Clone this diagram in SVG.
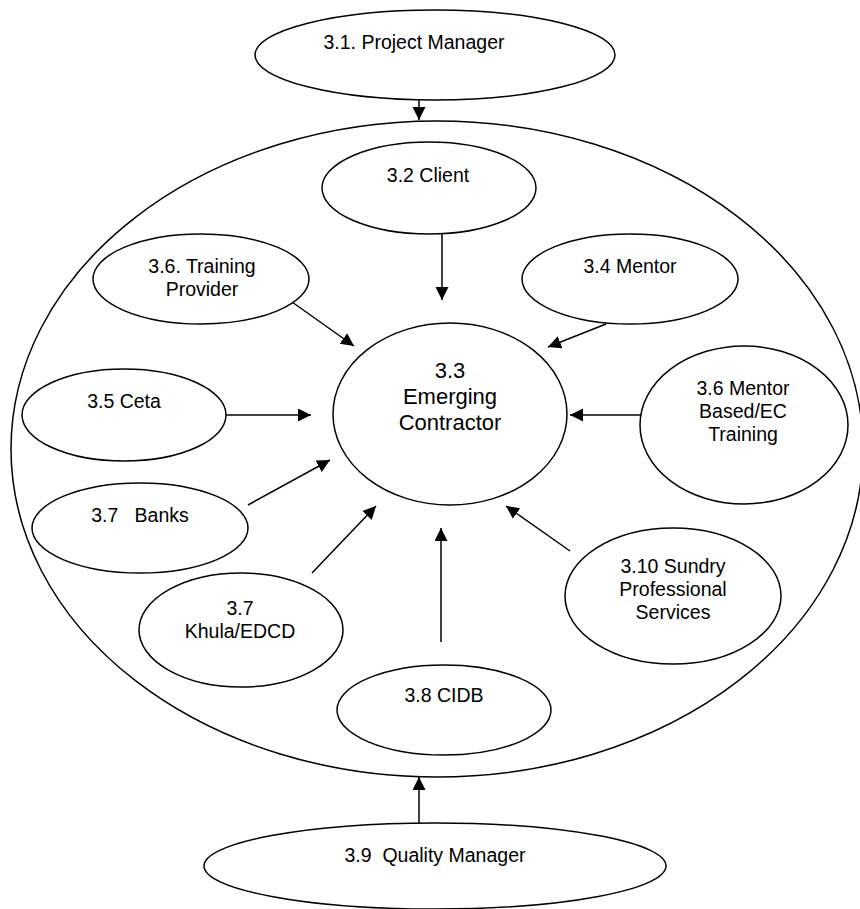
<svg xmlns="http://www.w3.org/2000/svg" width="860" height="909" viewBox="0 0 860 909">
<style>
.n{fill:#fff;stroke:#000;stroke-width:1.5}
.t{font-family:"Liberation Sans",Arial,sans-serif;font-size:19.5px;fill:#000;text-anchor:middle;white-space:pre}
.c{font-size:22px}
.e{stroke:#000;stroke-width:1.5;fill:none;marker-end:url(#ah)}
</style>
<defs>
<marker id="ah" markerUnits="userSpaceOnUse" markerWidth="14" markerHeight="14" refX="13" refY="6.5" orient="auto">
<path d="M0,0 L13,6.5 L0,13 z" fill="#000"/>
</marker>
</defs>
<rect width="860" height="909" fill="#fff"/>
<g id="boundary"><ellipse class="n" cx="437" cy="449" rx="426" ry="328"/></g>
<g id="pm"><ellipse class="n" cx="435" cy="55" rx="180" ry="45"/><text class="t" x="414" y="49">3.1. Project Manager</text></g>
<g id="client"><ellipse class="n" cx="429" cy="188" rx="107" ry="46"/><text class="t" x="428" y="182">3.2 Client</text></g>
<g id="training"><ellipse class="n" cx="201" cy="279" rx="108" ry="45"/><text class="t" x="202" y="273">3.6. Training</text><text class="t" x="202" y="296">Provider</text></g>
<g id="mentor"><ellipse class="n" cx="630" cy="279" rx="108" ry="45"/><text class="t" x="630" y="273">3.4 Mentor</text></g>
<g id="ec"><ellipse class="n" cx="450" cy="414" rx="117" ry="91"/><text class="t c" x="450" y="378">3.3</text><text class="t c" x="450" y="404">Emerging</text><text class="t c" x="450" y="430">Contractor</text></g>
<g id="ceta"><ellipse class="n" cx="124" cy="415" rx="102" ry="46"/><text class="t" x="124" y="408">3.5 Ceta</text></g>
<g id="mentorbased"><ellipse class="n" cx="744" cy="425" rx="104" ry="79"/><text class="t" x="743" y="395">3.6 Mentor</text><text class="t" x="743" y="418">Based/EC</text><text class="t" x="743" y="441">Training</text></g>
<g id="banks"><ellipse class="n" cx="140" cy="528" rx="108" ry="45"/><text class="t" x="140" y="522">3.7   Banks</text></g>
<g id="khula"><ellipse class="n" cx="241" cy="630" rx="102" ry="57"/><text class="t" x="240" y="615">3.7</text><text class="t" x="240" y="638">Khula/EDCD</text></g>
<g id="cidb"><ellipse class="n" cx="444" cy="710" rx="107" ry="45"/><text class="t" x="444" y="702">3.8 CIDB</text></g>
<g id="sundry"><ellipse class="n" cx="673" cy="596" rx="108" ry="68"/><text class="t" x="673" y="573">3.10 Sundry</text><text class="t" x="673" y="596">Professional</text><text class="t" x="673" y="619">Services</text></g>
<g id="qm"><ellipse class="n" cx="435" cy="866" rx="231" ry="43"/><text class="t" x="435" y="862">3.9  Quality Manager</text></g>
<g id="connectors">
<line class="e" x1="419" y1="99" x2="419" y2="120"/>
<line class="e" x1="442" y1="234" x2="442" y2="300"/>
<line class="e" x1="292" y1="302" x2="354" y2="346"/>
<line class="e" x1="606" y1="324" x2="548" y2="347"/>
<line class="e" x1="226" y1="415" x2="311" y2="415"/>
<line class="e" x1="641" y1="415" x2="570" y2="415"/>
<line class="e" x1="248" y1="505" x2="330" y2="460"/>
<line class="e" x1="312" y1="573" x2="376" y2="506"/>
<line class="e" x1="441" y1="642" x2="441" y2="528"/>
<line class="e" x1="570" y1="551" x2="506" y2="506"/>
<line class="e" x1="419" y1="823" x2="419" y2="777"/>
</g>
</svg>
